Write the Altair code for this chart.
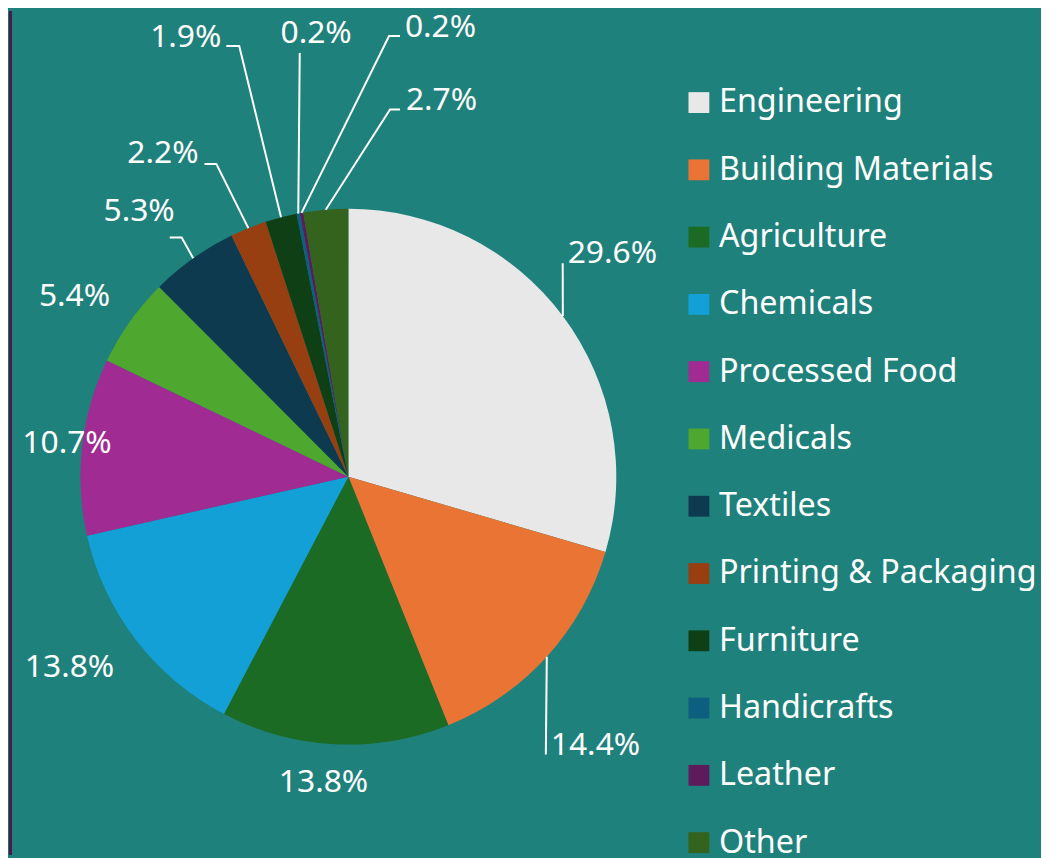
import math
import altair as alt
import pandas as pd

# ---- data ----
sectors = ["Engineering", "Building Materials", "Agriculture", "Chemicals",
           "Processed Food", "Medicals", "Textiles", "Printing & Packaging",
           "Furniture", "Handicrafts", "Leather", "Other"]
shares = [29.6, 14.4, 13.8, 13.8, 10.7, 5.4, 5.3, 2.2, 1.9, 0.2, 0.2, 2.7]
colors = ["#e8e8e8", "#ea7433", "#1c6b24", "#12a0d7", "#a02b93", "#4ea72e",
          "#0e3a4f", "#983f12", "#0f3f15", "#0d5f80", "#5e1b5b", "#33631d"]

# ---- layout (page pixel coordinates) ----
MARGIN = 8
W, H = 1041, 850
CX, CY, R = 351, 477, 270
BG = "#1f817c"
EDGE = "#4a1a4f"
FONT = "Noto Sans"

label_x = [572, 555, 326, 70, 67.5, 75, 176, 200, 223, 318.5, 408, 409]
label_y = [262, 757, 795, 679, 453, 305, 219, 161, 44, 40, 34, 107]
label_align = ["left", "left", "center", "center", "center", "center",
               "right", "right", "right", "center", "left", "left"]
leader_points = {
    0: [(567, 262)],
    1: [(550, 757)],
    6: [(183, 236), (171, 236)],
    7: [(218, 162), (206, 162)],
    8: [(241, 43), (228, 43)],
    9: [(302, 50)],
    10: [(392, 33), (403, 33)],
    11: [(393, 107), (403, 107)],
}

total = sum(shares)
pie = pd.DataFrame({"sector": sectors, "value": shares, "idx": range(len(sectors))})

labels = pd.DataFrame({
    "sector": sectors,
    "text": [f"{v}%" for v in shares],
    "px": [x - MARGIN for x in label_x],
    "py": [y - MARGIN for y in label_y],
    "align": label_align,
})

rows = []
cum = 0.0
for i, v in enumerate(shares):
    mid = (cum + v / 2) / total * 2 * math.pi
    cum += v
    if i not in leader_points:
        continue
    sx = CX + R * math.sin(mid)
    sy = CY - R * math.cos(mid)
    pts = [(sx, sy)] + leader_points[i]
    for k, (x, y) in enumerate(pts):
        rows.append({"sector": sectors[i], "k": k, "px": x - MARGIN, "py": y - MARGIN})
leaders = pd.DataFrame(rows)

xs = alt.Scale(domain=[0, W], range=[0, W], zero=False, nice=False)
ys = alt.Scale(domain=[0, H], range=[0, H], zero=False, nice=False)

LEG_FS = 32.5
ROW = 67.3
arcs = alt.Chart(pie).mark_arc(outerRadius=R, strokeWidth=0).encode(
    theta=alt.Theta("value:Q", stack=True),
    color=alt.Color(
        "sector:N",
        scale=alt.Scale(domain=sectors, range=colors),
        sort=sectors,
        legend=alt.Legend(
            title=None, orient="none", legendX=680, legendY=92 - LEG_FS / 2,
            direction="vertical", symbolType="square", symbolSize=441,
            symbolStrokeWidth=0, labelFont=FONT, labelFontSize=LEG_FS,
            labelColor="white", labelOffset=4, rowPadding=ROW - LEG_FS, padding=0,
            labelLimit=500, symbolLimit=0,
        ),
    ),
    order=alt.Order("idx:Q"),
    x=alt.value(CX - MARGIN),
    y=alt.value(CY - MARGIN),
)

lines = alt.Chart(leaders).mark_line(color="white", strokeWidth=2).encode(
    x=alt.X("px:Q", scale=xs, axis=None),
    y=alt.Y("py:Q", scale=ys, axis=None),
    detail="sector:N",
    order="k:Q",
)

text_layers = []
for a in ["left", "center", "right"]:
    text_layers.append(
        alt.Chart(labels).transform_filter(alt.datum.align == a)
        .mark_text(align=a, baseline="alphabetic", font=FONT, fontSize=32, color="white")
        .encode(x=alt.X("px:Q", scale=xs, axis=None),
                y=alt.Y("py:Q", scale=ys, axis=None),
                text="text:N")
    )

edge = alt.Chart(pie).mark_rule(color=EDGE, strokeWidth=3).encode(
    x=alt.value(2.5), y=alt.value(0), y2=alt.value(H)
)

chart = alt.layer(edge, arcs, lines, *text_layers).properties(
    width=W, height=H, padding=0,
    autosize=alt.AutoSizeParams(type="none"),
).configure(background=BG).configure_view(stroke=None)

chart.save("out.html", embed_options={"renderer": "svg", "actions": False})
